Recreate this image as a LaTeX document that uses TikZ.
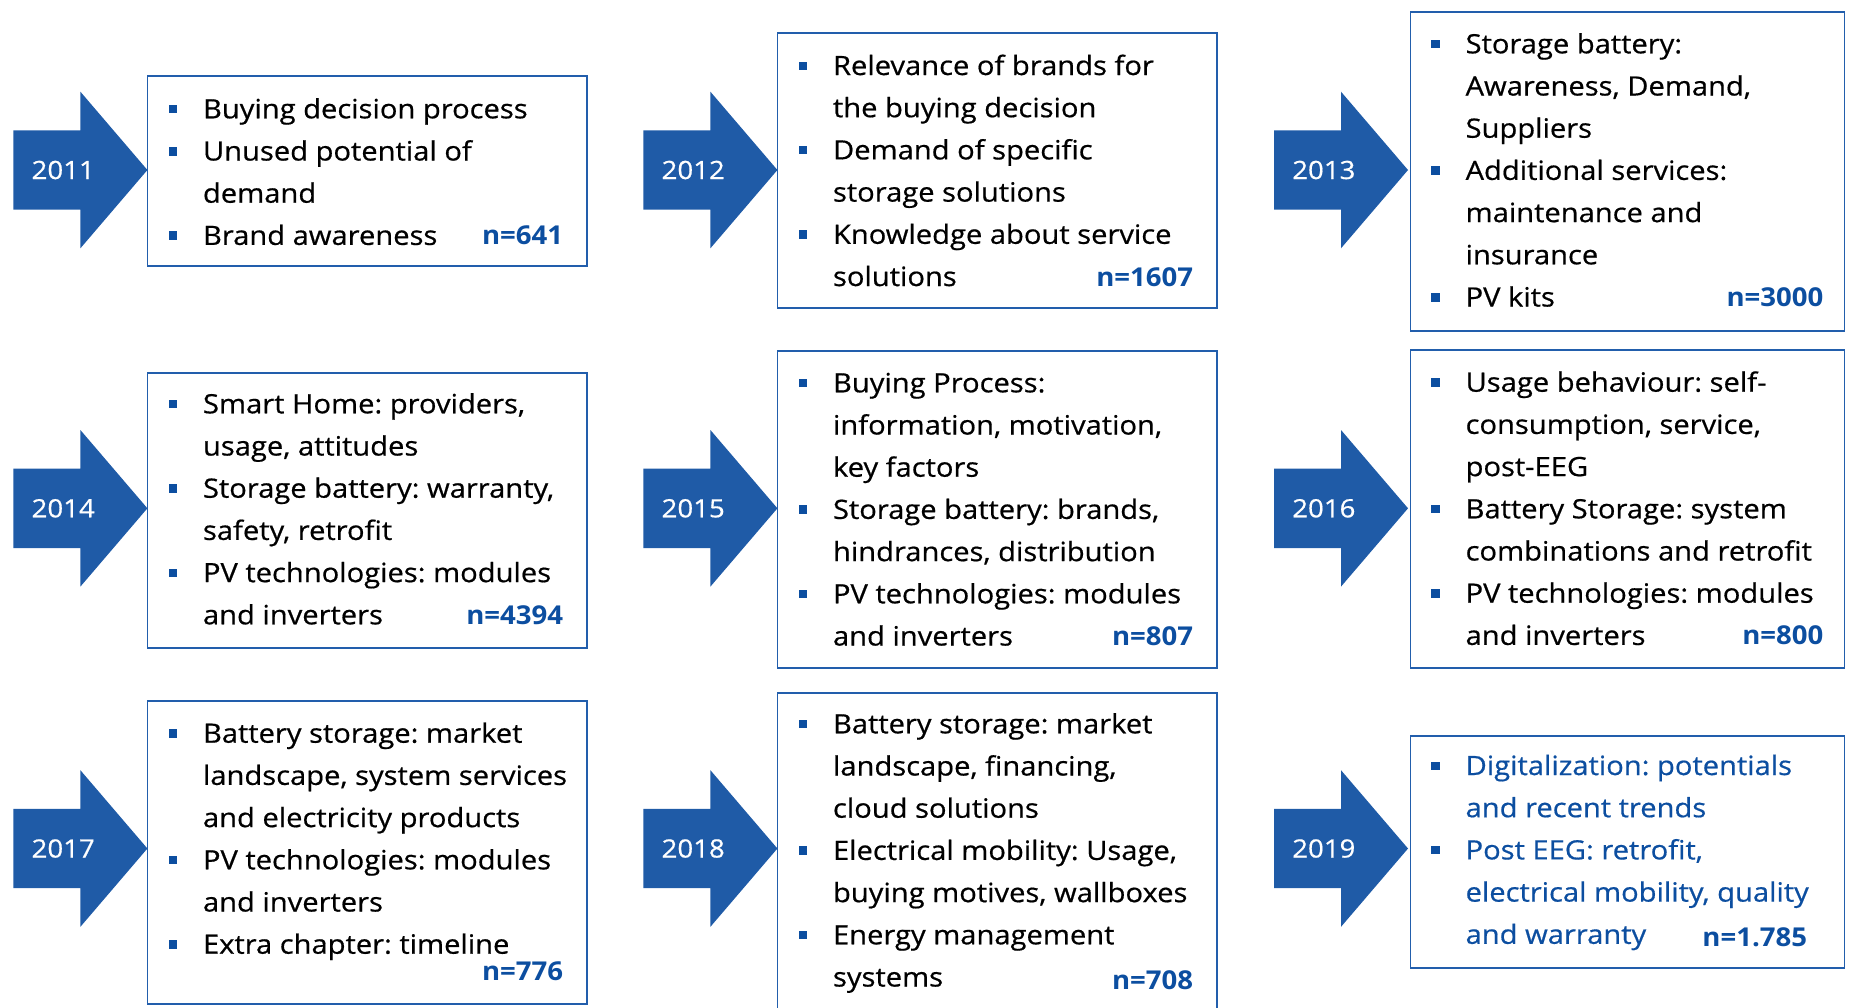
\documentclass[tikz,border=0pt]{standalone}
\usepackage{fontspec}
\setmainfont[FakeStretch=1.095,FakeBold=0.6]{Open Sans}
\newfontfamily\countfont[FakeStretch=1.06]{Open Sans}
\definecolor{arrowblue}{RGB}{31,91,167}
\definecolor{textblue}{RGB}{12,78,160}
\definecolor{boxblue}{RGB}{34,94,172}
\newcommand{\bl}{\leavevmode\llap{\textcolor{textblue}{\rule[5pt]{8.5pt}{8.5pt}}\hspace{25.8pt}}}
\newcommand{\yarrow}[3]{%
  \fill[yeararrow] (#1,#2-39.7) -- (#1+67,#2-39.7) -- (#1+67,#2-78.3) -- (#1+134,#2)
    -- (#1+67,#2+78.3) -- (#1+67,#2+39.7) -- (#1,#2+39.7) -- cycle;
  \node[yearlabel] (y#3) at (#1+49.8,#2) {#3};}
\newcommand{\itemtext}[1]{\parbox[t]{420pt}{\frenchspacing #1}}
\tikzset{
  yeararrow/.style={fill=arrowblue},
  frame/.style={draw=boxblue, line width=1.8pt, anchor=north west, inner sep=0pt},
  items/.style={anchor=base west, inner sep=0pt, font=\fontsize{26.6}{42.2}\selectfont},
  count/.style={anchor=base east, inner sep=0pt, text=textblue, font=\countfont\fontsize{26}{42.2}\selectfont\bfseries},
  yearlabel/.style={text=white, font=\fontsize{25.2}{30}\selectfont, inner sep=0pt},
}
\begin{document}
\begin{tikzpicture}[x=1pt,y=-1pt]
\useasboundingbox (0,0) rectangle (1851,1007);
\clip (0,0) rectangle (1851,1007);
% ---- row 1
\yarrow{13.4}{170}{2011}
\yarrow{643.4}{170}{2012}
\yarrow{1274}{170}{2013}
\node[frame, minimum width=439.7pt, minimum height=190pt] (b2011) at (146.6,75) {};
\node[items] (t2011) at (202.8,118.3) {\itemtext{\bl Buying decision process\\\bl Unused potential of\\demand\\\bl Brand awareness}};
\node[count] (n2011) at (563.3,244.9) {n=641};
\node[frame, minimum width=439.7pt, minimum height=275pt] (b2012) at (776.6,32.3) {};
\node[items] (t2012) at (832.8,75) {\itemtext{\bl Relevance of brands for\\the buying decision\\\bl Demand of specific\\storage solutions\\\bl Knowledge about service\\solutions}};
\node[count] (n2012) at (1193.3,286) {n=1607};
\node[frame, minimum width=433.9pt, minimum height=319pt] (b2013) at (1409.6,11) {};
\node[items] (t2013) at (1465.4,53.3) {\itemtext{\bl Storage battery:\\Awareness, Demand,\\Suppliers\\\bl Additional services:\\maintenance and\\insurance\\\bl PV kits}};
\node[count] (n2013) at (1823.5,306.5) {n=3000};
% ---- row 2
\yarrow{13.4}{508.3}{2014}
\yarrow{643.4}{508.3}{2015}
\yarrow{1274}{508.3}{2016}
\node[frame, minimum width=439.7pt, minimum height=275pt] (b2014) at (146.6,371.7) {};
\node[items] (t2014) at (202.8,413.3) {\itemtext{\bl Smart Home: providers,\\usage, attitudes\\\bl Storage battery: warranty,\\safety, retrofit\\\bl PV technologies: modules\\and inverters}};
\node[count] (n2014) at (563.3,624.3) {n=4394};
\node[frame, minimum width=439.7pt, minimum height=317.3pt] (b2015) at (776.6,350) {};
\node[items] (t2015) at (832.8,392.3) {\itemtext{\bl Buying Process:\\information, motivation,\\key factors\\\bl Storage battery: brands,\\hindrances, distribution\\\bl PV technologies: modules\\and inverters}};
\node[count] (n2015) at (1193.3,645.5) {n=807};
\node[frame, minimum width=433.9pt, minimum height=317.4pt] (b2016) at (1409.6,349.3) {};
\node[items] (t2016) at (1465.4,391.7) {\itemtext{\bl Usage behaviour: self-\\consumption, service,\\post-EEG\\\bl Battery Storage: system\\combinations and retrofit\\\bl PV technologies: modules\\and inverters}};
\node[count] (n2016) at (1823.5,644.9) {n=800};
% ---- row 3
\yarrow{13.4}{848.5}{2017}
\yarrow{643.4}{848.5}{2018}
\yarrow{1274}{848.5}{2019}
\node[frame, minimum width=439.7pt, minimum height=302.7pt] (b2017) at (146.6,700) {};
\node[items] (t2017) at (202.8,742.7) {\itemtext{\bl Battery storage: market\\landscape, system services\\and electricity products\\\bl PV technologies: modules\\and inverters\\\bl Extra chapter: timeline}};
\node[count] (n2017) at (563.3,980) {n=776};
\node[frame, minimum width=439.7pt, minimum height=330pt] (b2018) at (776.6,692.3) {};
\node[items] (t2018) at (832.8,733.3) {\itemtext{\bl Battery storage: market\\landscape, financing,\\cloud solutions\\\bl Electrical mobility: Usage,\\buying motives, wallboxes\\\bl Energy management\\systems}};
\node[count] (n2018) at (1193.3,989) {n=708};
\node[frame, minimum width=433.9pt, minimum height=232.3pt] (b2019) at (1409.6,735) {};
\node[items, text=textblue] (t2019) at (1465.4,775) {\itemtext{\bl Digitalization: potentials\\and recent trends\\\bl Post EEG: retrofit,\\electrical mobility, quality\\and warranty}};
\node[count] (n2019) at (1807.3,946.7) {n=1.785};
\end{tikzpicture}
\end{document}
